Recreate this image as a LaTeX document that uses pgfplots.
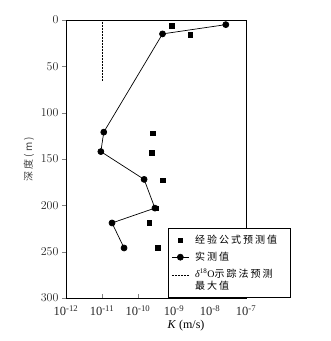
\documentclass[border=0pt]{standalone}
\usepackage{fontspec}
\setmainfont{Liberation Serif}
\newfontfamily\cjk[LetterSpace=20]{Noto Sans CJK SC}
\usepackage{pgfplots}
\pgfplotsset{compat=1.18}
\pgfplotsset{raisedline/.style={legend image code/.code={\draw[#1] (0cm,5pt) -- (0.6cm,5pt);}}}
\begin{document}
\begin{tikzpicture}
\begin{axis}[
  scale only axis,
  width=180pt, height=278pt,
  xmode=log, xmin=1e-12, xmax=1e-7,
  ymin=0, ymax=300, y dir=reverse,
  xtick={1e-12,1e-11,1e-10,1e-9,1e-8,1e-7},
  xticklabels={10\textsuperscript{-12},10\textsuperscript{-11},10\textsuperscript{-10},
    10\textsuperscript{-9},10\textsuperscript{-8},10\textsuperscript{-7}},
  xminorticks=false,
  ytick={0,50,...,300},
  xtick pos=bottom, ytick pos=left,
  tick align=outside,
  major tick length=4pt,
  xtick style={yshift=4pt},
  tick label style={font=\fontsize{12.5}{13}\selectfont, text=black!85},
  axis line style={line width=0.8pt},
  xlabel={\textit{K} (m/s)},
  xlabel style={font=\fontsize{12}{13}\selectfont, xshift=30pt, yshift=3pt},
  ylabel={\cjk 深度(m)},
  ylabel style={font=\fontsize{10}{12}\selectfont, text=black!75},
  legend style={at={(0.567,0)}, anchor=south west, draw=black, line width=0.8pt,
    fill=white, inner xsep=3pt, inner ysep=5pt, row sep=3pt, column sep=4pt,
    font=\fontsize{10}{11.5}\selectfont, cells={align=left, anchor=west}},
  legend cell align=left,
]
% empirical formula prediction
\addplot[only marks, mark=square*, mark size=2.3pt, black] coordinates {
  (8.5e-10,6) (2.8e-9,16) (2.6e-10,122) (2.4e-10,143)
  (4.8e-10,173) (3.2e-10,203) (2.05e-10,219) (3.5e-10,246)
};
% measured
\addplot[black, line width=0.7pt, mark=*, mark size=3pt] coordinates {
  (2.75e-8,5) (4.8e-10,15) (1.12e-11,121) (9.3e-12,142)
  (1.48e-10,172) (2.95e-10,203) (1.9e-11,219) (4.1e-11,246)
};
% delta18O tracer max
\addplot[black, densely dotted, line width=0.5pt, raisedline] coordinates {
  (1e-11,0) (1e-11,66)
};
\legend{{\cjk 经验公式预测值}\hspace{8pt}, {\cjk 实测值},
  {\itshape δ}\textsuperscript{18}O{\cjk 示踪法预测}\\{\cjk 最大值}}
\coordinate (sw) at (axis cs:1e-12,300);
\end{axis}
\path (sw) ++(-66pt,-43pt) rectangle ++(331pt,341pt);
\end{tikzpicture}
\end{document}
